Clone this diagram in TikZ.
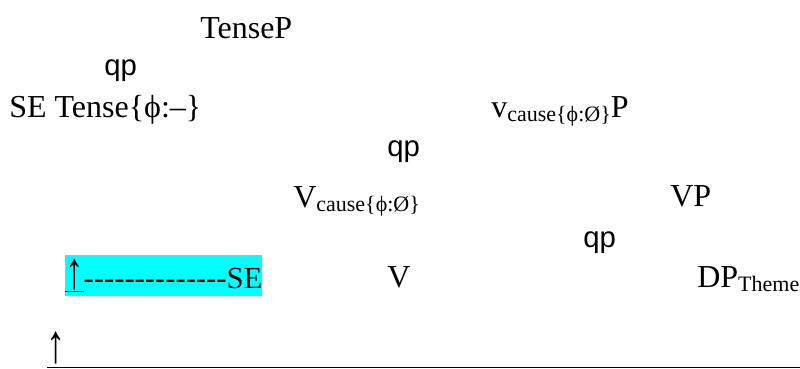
\documentclass[tikz,border=0pt]{standalone}
\usepackage{fontspec}
\setmainfont{Liberation Serif}
\newfontfamily\treesans{Liberation Sans}
\definecolor{markcyan}{RGB}{0,255,255}
\newcommand{\lowtext}[1]{\raisebox{-3.5pt}{\fontsize{16.5}{18}\selectfont #1}}
\newcommand{\hy}{\mbox{-}}
\newcommand{\uparr}{\scalebox{1.2}[1.7]{↑}}
\tikzset{
  lbl/.style={anchor=base west,inner sep=0pt,font=\fontsize{24}{26}\selectfont},
  branch/.style={anchor=base west,inner sep=0pt,font=\treesans\fontsize{22}{24}\selectfont},
  marked/.style={lbl,font=\fontsize{23}{26}\selectfont,fill=markcyan,text height=24.75pt,text depth=6pt}
}
\begin{document}
\begin{tikzpicture}[x=0.75pt,y=-0.75pt]
    \useasboundingbox (0,0) rectangle (800,368);
    % upper tree
    \node[lbl] (tenseP) at (200,38) {TenseP};
    \node[branch] (qpA) at (104,75) {qp};
    \node[lbl] (tenseHead) at (9,117) {SE Tense\{ϕ:–\}};
    \node[lbl] (vcauseP) at (491,117) {v\lowtext{cause\{ϕ:Ø\}}P};
    \node[branch] (qpB) at (387,156) {qp};
    \node[lbl] (vcause) at (293,207) {V\lowtext{cause\{ϕ:Ø\}}};
    \node[lbl] (vp) at (670,206) {VP};
    \node[branch] (qpC) at (583,247) {qp};
    % lower row
    \node[marked] (trace) at (65,288) {\underline{\uparr}\hy\hy\hy\hy\hy\hy\hy\hy\hy\hy\hy\hy\hy\hy SE};
    \node[lbl] (verb) at (387,287) {V};
    \node[lbl] (dpTheme) at (697,287) {DP\lowtext{Theme}};
    \node[lbl] (arrowUp) at (46,362) {\uparr};
    \coordinate (ruleL) at (47,367);
    \coordinate (ruleR) at (800,367);
    \draw[line width=0.75pt] (ruleL) -- (ruleR);
\end{tikzpicture}
\end{document}
